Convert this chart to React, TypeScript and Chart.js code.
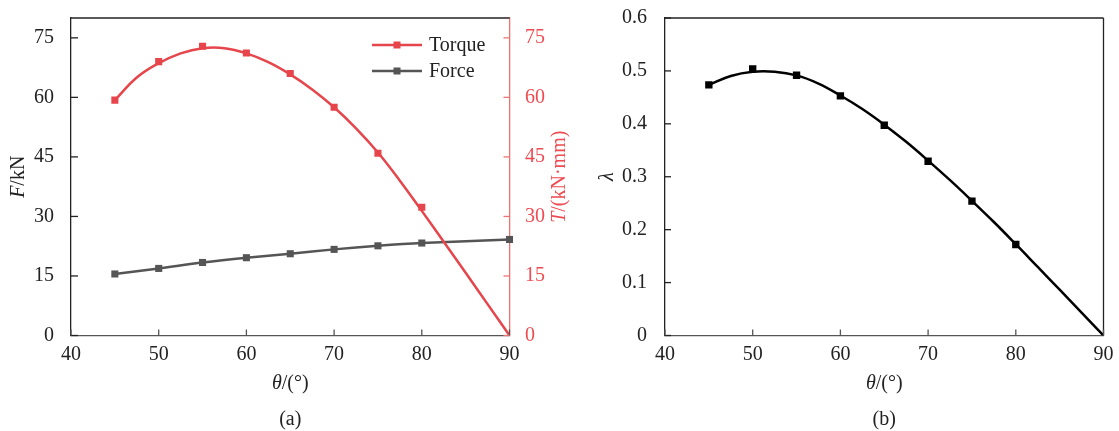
import React, { useEffect, useRef } from "react";
import { Chart, registerables } from "chart.js";
Chart.register(...registerables);

// ---------- data ----------
const xTicks = [40, 50, 60, 70, 80, 90];
const fTicks = [0, 15, 30, 45, 60, 75];
const lambdaTicks = [0, 0.1, 0.2, 0.3, 0.4, 0.5, 0.6];

const thetaMarks = [45, 50, 55, 60, 65, 70, 75, 80];
const torqueMarks = [59.3, 69.0, 72.9, 71.2, 66.0, 57.5, 45.9, 32.3];

const thetaForce = [45, 50, 55, 60, 65, 70, 75, 80, 90];
const forceVals = [15.5, 16.9, 18.4, 19.6, 20.6, 21.7, 22.6, 23.3, 24.2];

const thetaFit = [45, 47.5, 50, 52.5, 55, 57.5, 60, 62.5, 65, 67.5, 70, 72.5, 75, 77.5, 80, 82.5, 85, 87.5, 90];
const torqueFit = [59.3, 65.0, 68.6, 71.1, 72.4, 72.4, 71.1, 68.9, 65.8, 62.0, 57.5, 52.2, 46.1, 39.0, 31.4, 23.6, 15.8, 7.9, 0];

const lambdaMarks = [0.4736, 0.5038, 0.4918, 0.4528, 0.3974, 0.3293, 0.2538, 0.1719];
const lambdaFit = [0.4736, 0.4905, 0.4985, 0.4985, 0.4915, 0.476, 0.4535, 0.428, 0.3985, 0.366, 0.3305, 0.2935, 0.2545, 0.2145, 0.1725, 0.1295, 0.0865, 0.0432, 0];

// ---------- styling ----------
const FONT = '"Liberation Serif", "Times New Roman", serif';
const RED = "#e6454b";
const RED_AXIS = "#ef7373";
const RED_TEXT = "#ee4b52";
const GRAY = "#555555";
const DARK = "#222222";

type Part = { t: string; i?: boolean };

function pts(xs: number[], ys: number[]) {
  return xs.map((x, k) => ({ x, y: ys[k] }));
}

function drawRich(ctx: CanvasRenderingContext2D, parts: Part[], x: number, y: number, size: number, color: string, rotate: boolean) {
  ctx.save();
  ctx.translate(x, y);
  if (rotate) ctx.rotate(-Math.PI / 2);
  ctx.fillStyle = color;
  ctx.textBaseline = "middle";
  ctx.textAlign = "left";
  const fonts = parts.map((p) => `${p.i ? "italic " : ""}${size}px ${FONT}`);
  let total = 0;
  const widths = parts.map((p, k) => {
    ctx.font = fonts[k];
    const w = ctx.measureText(p.t).width;
    total += w;
    return w;
  });
  let cx = -total / 2;
  parts.forEach((p, k) => {
    ctx.font = fonts[k];
    ctx.fillText(p.t, cx, 0);
    cx += widths[k];
  });
  ctx.restore();
}

type TickSpec = { scaleId: string; side: "left" | "right" | "bottom"; color: string; len: number };
type TitleSpec = { parts: Part[]; color: string; rotate: boolean; where: "left" | "right" | "bottom" | "caption"; offset: number };
type LegendSpec = { label: string; color: string; y: number };

function makeDecor(ticks: TickSpec[], titles: TitleSpec[], rightBorder: string | null, legend: LegendSpec[] | null, legendX: number) {
  return {
    id: "decor",
    afterDraw(chart: any) {
      const ctx: CanvasRenderingContext2D = chart.ctx;
      const a = chart.chartArea;
      ctx.save();
      // top border
      ctx.strokeStyle = DARK;
      ctx.lineWidth = 1.3;
      ctx.beginPath();
      ctx.moveTo(a.left, a.top);
      ctx.lineTo(a.right, a.top);
      ctx.stroke();
      if (rightBorder) {
        ctx.strokeStyle = rightBorder;
        ctx.beginPath();
        ctx.moveTo(a.right, a.top);
        ctx.lineTo(a.right, a.bottom);
        ctx.stroke();
      }
      // inward tick marks
      for (const t of ticks) {
        const s = chart.scales[t.scaleId];
        ctx.strokeStyle = t.color;
        ctx.lineWidth = 1.3;
        s.ticks.forEach((tk: any, k: number) => {
          const p = s.getPixelForTick(k);
          ctx.beginPath();
          if (t.side === "left") {
            ctx.moveTo(a.left, p);
            ctx.lineTo(a.left + t.len, p);
          } else if (t.side === "right") {
            ctx.moveTo(a.right, p);
            ctx.lineTo(a.right - t.len, p);
          } else {
            ctx.moveTo(p, a.bottom);
            ctx.lineTo(p, a.bottom - t.len);
          }
          ctx.stroke();
        });
      }
      // titles
      const cy = (a.top + a.bottom) / 2;
      const cx = (a.left + a.right) / 2;
      for (const t of titles) {
        if (t.where === "left") drawRich(ctx, t.parts, a.left - t.offset, cy, 20, t.color, true);
        else if (t.where === "right") drawRich(ctx, t.parts, a.right + t.offset, cy, 20, t.color, true);
        else drawRich(ctx, t.parts, cx, a.bottom + t.offset, 20, t.color, false);
      }
      // legend
      if (legend) {
        for (const l of legend) {
          ctx.strokeStyle = l.color;
          ctx.lineWidth = 2.5;
          ctx.beginPath();
          ctx.moveTo(legendX, l.y);
          ctx.lineTo(legendX + 50, l.y);
          ctx.stroke();
          ctx.fillStyle = l.color;
          ctx.fillRect(legendX + 25 - 3.5, l.y - 3.5, 7, 7);
          ctx.fillStyle = DARK;
          ctx.font = `20px ${FONT}`;
          ctx.textBaseline = "middle";
          ctx.textAlign = "left";
          ctx.fillText(l.label, legendX + 57, l.y + 1);
        }
      }
      ctx.restore();
    },
  };
}

function zeroPad(s: any) {
  s.paddingLeft = 0;
  s.paddingRight = 0;
  s.paddingTop = 0;
  s.paddingBottom = 0;
}

const tickFont = { family: FONT, size: 20 };

function ChartA() {
  const ref = useRef<HTMLCanvasElement>(null);
  useEffect(() => {
    const chart = new Chart(ref.current!, {
      type: "line",
      data: {
        datasets: [
          {
            label: "Torque",
            data: pts(thetaMarks, torqueMarks),
            yAxisID: "y2",
            showLine: false,
            pointStyle: "rect",
            pointRadius: 5,
            pointBorderWidth: 0,
            pointBackgroundColor: RED,
            borderColor: RED,
          },
          {
            label: "Torque fit",
            data: pts(thetaFit, torqueFit),
            yAxisID: "y2",
            pointRadius: 0,
            borderColor: RED,
            borderWidth: 2.5,
            tension: 0.4,
          },
          {
            label: "Force",
            data: pts(thetaForce, forceVals),
            yAxisID: "y",
            pointStyle: "rect",
            pointRadius: 5,
            pointBorderWidth: 0,
            pointBackgroundColor: GRAY,
            borderColor: GRAY,
            borderWidth: 2.5,
            tension: 0.3,
            clip: false,
          },
        ],
      } as any,
      options: {
        responsive: false,
        animation: false,
        events: [],
        layout: { padding: { top: 18, left: 0, right: 0, bottom: 0 } },
        plugins: { legend: { display: false }, tooltip: { enabled: false } },
        scales: {
          x: {
            type: "linear",
            position: "bottom",
            min: 40,
            max: 90,
            afterBuildTicks: (s: any) => {
              s.ticks = xTicks.map((v) => ({ value: v }));
            },
            afterFit: (s: any) => {
              s.height = 95.5;
              zeroPad(s);
            },
            grid: { display: false },
            border: { display: true, color: GRAY, width: 1.3 },
            ticks: { font: tickFont, color: DARK, padding: -1, maxRotation: 0 },
          },
          y: {
            type: "linear",
            position: "left",
            min: 0,
            max: 80,
            afterBuildTicks: (s: any) => {
              s.ticks = fTicks.map((v) => ({ value: v }));
            },
            afterFit: (s: any) => {
              s.width = 71;
              zeroPad(s);
            },
            grid: { display: false },
            border: { display: true, color: DARK, width: 1.3 },
            ticks: { font: tickFont, color: DARK, padding: 9 },
          },
          y2: {
            type: "linear",
            position: "right",
            min: 0,
            max: 80,
            afterBuildTicks: (s: any) => {
              s.ticks = fTicks.map((v) => ({ value: v }));
            },
            afterFit: (s: any) => {
              s.width = 70.5;
              zeroPad(s);
            },
            grid: { display: false },
            border: { display: true, color: RED_AXIS, width: 1.3 },
            ticks: { font: tickFont, color: RED_TEXT, padding: 7.5 },
          },
        },
      } as any,
      plugins: [
        makeDecor(
          [
            { scaleId: "y", side: "left", color: DARK, len: 7 },
            { scaleId: "y2", side: "right", color: RED_AXIS, len: 6 },
            { scaleId: "x", side: "bottom", color: GRAY, len: 6 },
          ],
          [
            { parts: [{ t: "F", i: true }, { t: "/kN" }], color: DARK, rotate: true, where: "left", offset: 52 },
            { parts: [{ t: "T", i: true }, { t: "/(kN·mm)" }], color: RED_TEXT, rotate: true, where: "right", offset: 50 },
            { parts: [{ t: "θ", i: true }, { t: "/(°)" }], color: DARK, rotate: false, where: "bottom", offset: 48 },
            { parts: [{ t: "(a)" }], color: DARK, rotate: false, where: "caption", offset: 84 },
          ],
          null,
          [
            { label: "Torque", color: RED, y: 45 },
            { label: "Force", color: GRAY, y: 71 },
          ],
          372
        ),
      ],
    });
    return () => chart.destroy();
  }, []);
  return <canvas ref={ref} width={580} height={431} style={{ position: "absolute", left: 0, top: 0, width: 580, height: 431 }} />;
}

function ChartB() {
  const ref = useRef<HTMLCanvasElement>(null);
  useEffect(() => {
    const chart = new Chart(ref.current!, {
      type: "line",
      data: {
        datasets: [
          {
            label: "λ",
            data: pts(thetaMarks, lambdaMarks),
            showLine: false,
            pointStyle: "rect",
            pointRadius: 5.2,
            pointBorderWidth: 0,
            pointBackgroundColor: "#000",
            borderColor: "#000",
          },
          {
            label: "λ fit",
            data: pts(thetaFit, lambdaFit),
            pointRadius: 0,
            borderColor: "#000",
            borderWidth: 2.5,
            tension: 0.4,
          },
        ],
      } as any,
      options: {
        responsive: false,
        animation: false,
        events: [],
        layout: { padding: { top: 18, left: 0, right: 15.5, bottom: 0 } },
        plugins: { legend: { display: false }, tooltip: { enabled: false } },
        scales: {
          x: {
            type: "linear",
            position: "bottom",
            min: 40,
            max: 90,
            afterBuildTicks: (s: any) => {
              s.ticks = xTicks.map((v) => ({ value: v }));
            },
            afterFit: (s: any) => {
              s.height = 95.5;
              zeroPad(s);
            },
            grid: { display: false },
            border: { display: true, color: GRAY, width: 1.3 },
            ticks: { font: tickFont, color: DARK, padding: -1, maxRotation: 0 },
          },
          y: {
            type: "linear",
            position: "left",
            min: 0,
            max: 0.6,
            afterBuildTicks: (s: any) => {
              s.ticks = lambdaTicks.map((v) => ({ value: v }));
            },
            afterFit: (s: any) => {
              s.width = 85;
              zeroPad(s);
            },
            grid: { display: false },
            border: { display: true, color: DARK, width: 1.3 },
            ticks: { font: tickFont, color: DARK, padding: 10 },
          },
        },
      } as any,
      plugins: [
        makeDecor(
          [
            { scaleId: "y", side: "left", color: DARK, len: 6 },
            { scaleId: "x", side: "bottom", color: GRAY, len: 6 },
          ],
          [
            { parts: [{ t: "λ", i: true }], color: DARK, rotate: true, where: "left", offset: 57 },
            { parts: [{ t: "θ", i: true }, { t: "/(°)" }], color: DARK, rotate: false, where: "bottom", offset: 48 },
            { parts: [{ t: "(b)" }], color: DARK, rotate: false, where: "caption", offset: 84 },
          ],
          DARK,
          null,
          0
        ),
      ],
    });
    return () => chart.destroy();
  }, []);
  return <canvas ref={ref} width={539} height={431} style={{ position: "absolute", left: 580, top: 0, width: 539, height: 431 }} />;
}

export default function App() {
  return (
    <div style={{ position: "absolute", left: 0, top: 0, width: 1119, height: 431, background: "#fff", overflow: "hidden" }}>
      <ChartA />
      <ChartB />
    </div>
  );
}
